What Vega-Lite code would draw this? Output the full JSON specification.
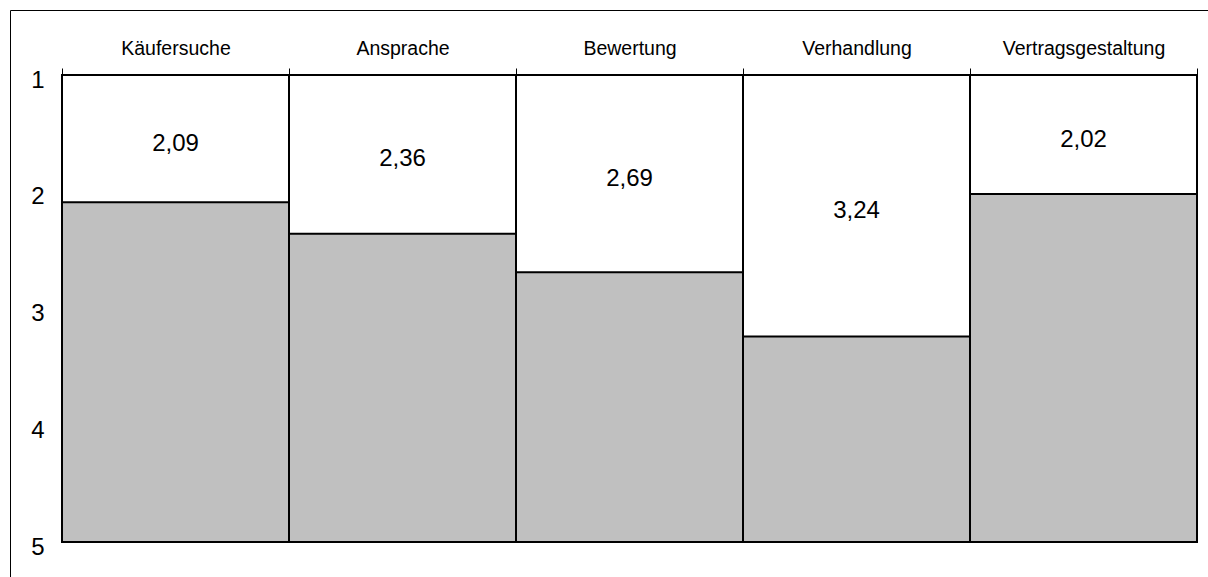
{
  "$schema": "https://vega.github.io/schema/vega-lite/v6.json",
  "width": 1198,
  "height": 567,
  "autosize": {"type": "none"},
  "padding": {"left": 10, "top": 10, "right": 0, "bottom": 0},
  "config": {
    "locale": {"number": {"decimal": ",", "thousands": ".", "grouping": [3], "currency": ["", " €"]}},
    "view": {"stroke": "#000", "strokeWidth": 1},
    "font": "Liberation Sans"
  },
  "data": {
    "values": [
      {"phase": "Käufersuche", "score": 2.09},
      {"phase": "Ansprache", "score": 2.36},
      {"phase": "Bewertung", "score": 2.69},
      {"phase": "Verhandlung", "score": 3.24},
      {"phase": "Vertragsgestaltung", "score": 2.02}
    ]
  },
  "transform": [{"calculate": "(1 + datum.score) / 2", "as": "mid"}],
  "encoding": {
    "x": {
      "field": "phase",
      "type": "nominal",
      "sort": null,
      "scale": {"range": [52, 1187], "paddingInner": 0, "paddingOuter": 0},
      "axis": {
        "orient": "top",
        "offset": -65,
        "title": null,
        "domain": false,
        "tickBand": "extent",
        "tickSize": 7,
        "tickColor": "#000",
        "labelFont": "Liberation Sans",
        "labelFontSize": 19.5,
        "labelColor": "#000",
        "labelPadding": 10,
        "labelAngle": 0
      }
    }
  },
  "layer": [
    {
      "mark": {"type": "bar", "fill": "#ffffff", "stroke": "#000", "strokeWidth": 2},
      "encoding": {
        "y": {
          "datum": 1,
          "type": "quantitative",
          "scale": {"domain": [1, 5], "range": [65, 532], "nice": false, "zero": false},
          "axis": {
            "orient": "left",
            "offset": -52,
            "values": [1, 2, 3, 4, 5],
            "tickSize": -8,
            "tickColor": "#000",
            "domain": false,
            "grid": false,
            "title": null,
            "labelFont": "Liberation Sans",
            "labelFontSize": 24,
            "labelColor": "#000",
            "labelPadding": 26,
            "labelOffset": 5,
            "format": "d"
          }
        },
        "y2": {"datum": 5}
      }
    },
    {
      "mark": {"type": "bar", "fill": "#c0c0c0", "stroke": "#000", "strokeWidth": 2},
      "encoding": {
        "y": {"field": "score", "type": "quantitative"},
        "y2": {"datum": 5}
      }
    },
    {
      "mark": {"type": "text", "fontSize": 24, "baseline": "middle", "dy": 5, "color": "#000", "font": "Liberation Sans"},
      "encoding": {
        "y": {"field": "mid", "type": "quantitative"},
        "text": {"field": "score", "type": "quantitative", "format": ".2f"}
      }
    }
  ]
}
